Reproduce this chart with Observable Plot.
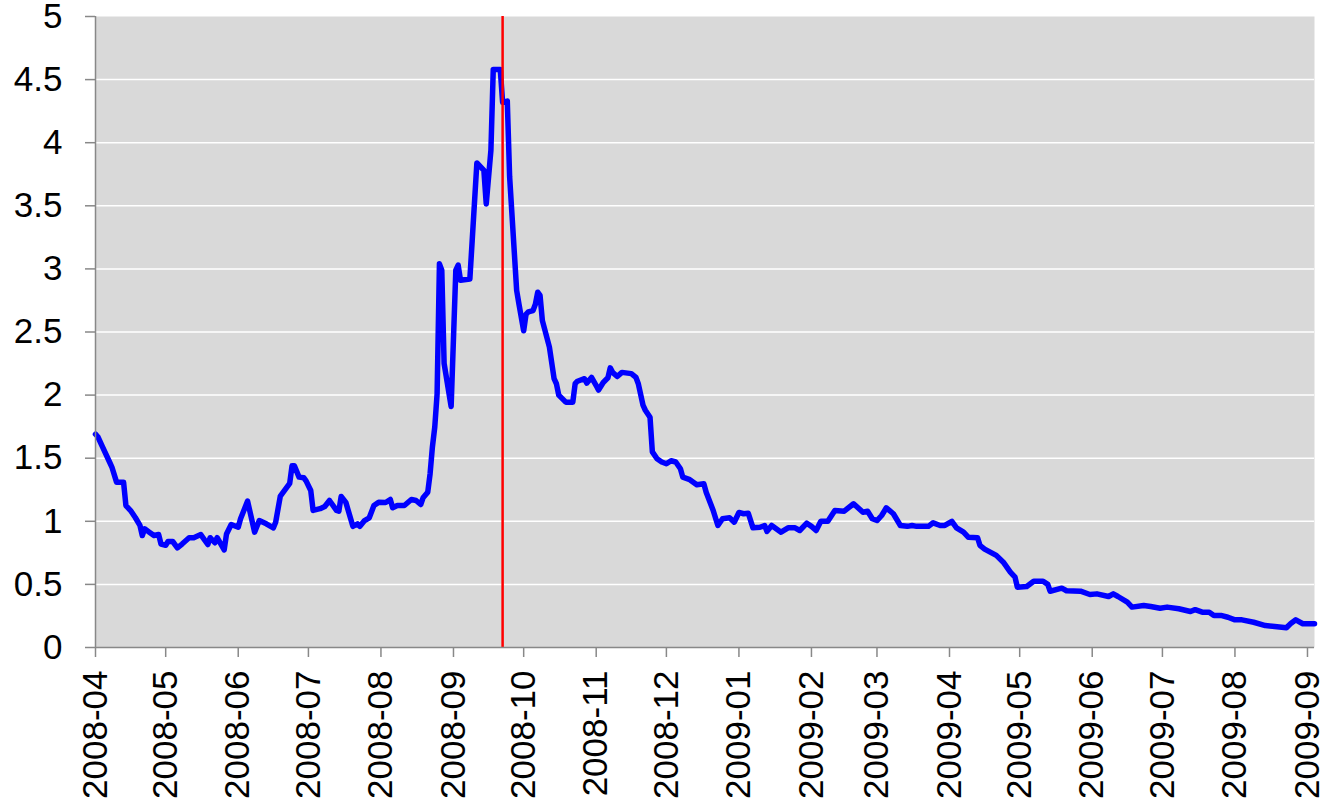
<!DOCTYPE html>
<html>
<head>
<meta charset="utf-8">
<script src="https://cdn.jsdelivr.net/npm/d3@7"></script>
<script src="https://cdn.jsdelivr.net/npm/@observablehq/plot@0.6"></script>
<style>
  html, body { margin: 0; padding: 0; background: #ffffff; }
  #chart { width: 1326px; height: 811px; }
</style>
</head>
<body>
<div id="chart"></div>
<script>
const dates = [
  "2008-04-01","2008-04-02","2008-04-04","2008-04-07","2008-04-08","2008-04-10","2008-04-13","2008-04-14","2008-04-16","2008-04-18",
  "2008-04-20","2008-04-21","2008-04-22","2008-04-24","2008-04-26","2008-04-28","2008-04-29","2008-05-01","2008-05-02","2008-05-04",
  "2008-05-06","2008-05-08","2008-05-11","2008-05-13","2008-05-16","2008-05-19","2008-05-20","2008-05-22","2008-05-23","2008-05-26",
  "2008-05-27","2008-05-29","2008-06-01","2008-06-02","2008-06-05","2008-06-08","2008-06-10","2008-06-13","2008-06-16","2008-06-17",
  "2008-06-19","2008-06-23","2008-06-24","2008-06-25","2008-06-27","2008-06-29","2008-06-30","2008-07-02","2008-07-03","2008-07-06",
  "2008-07-08","2008-07-10","2008-07-13","2008-07-14","2008-07-15","2008-07-17","2008-07-20","2008-07-22","2008-07-23","2008-07-25",
  "2008-07-27","2008-07-29","2008-07-31","2008-08-03","2008-08-05","2008-08-06","2008-08-08","2008-08-11","2008-08-14","2008-08-16",
  "2008-08-18","2008-08-19","2008-08-21","2008-08-22","2008-08-23","2008-08-24","2008-08-25","2008-08-26","2008-08-27","2008-08-28",
  "2008-08-31","2008-09-02","2008-09-03","2008-09-04","2008-09-08","2008-09-09","2008-09-11","2008-09-14","2008-09-15","2008-09-17",
  "2008-09-18","2008-09-21","2008-09-22","2008-09-24","2008-09-25","2008-09-28","2008-09-29","2008-10-01","2008-10-02","2008-10-03",
  "2008-10-05","2008-10-06","2008-10-07","2008-10-08","2008-10-09","2008-10-12","2008-10-14","2008-10-15","2008-10-16","2008-10-19",
  "2008-10-22","2008-10-23","2008-10-24","2008-10-27","2008-10-28","2008-10-30","2008-11-01","2008-11-02","2008-11-04","2008-11-06",
  "2008-11-07","2008-11-08","2008-11-10","2008-11-12","2008-11-16","2008-11-18","2008-11-19","2008-11-21","2008-11-22","2008-11-24",
  "2008-11-25","2008-11-27","2008-11-29","2008-12-01","2008-12-03","2008-12-05","2008-12-07","2008-12-08","2008-12-11","2008-12-14",
  "2008-12-17","2008-12-18","2008-12-21","2008-12-23","2008-12-25","2008-12-28","2008-12-30","2009-01-01","2009-01-03","2009-01-05",
  "2009-01-07","2009-01-10","2009-01-12","2009-01-13","2009-01-15","2009-01-19","2009-01-22","2009-01-25","2009-01-27","2009-01-30",
  "2009-02-01","2009-02-03","2009-02-05","2009-02-08","2009-02-11","2009-02-15","2009-02-19","2009-02-23","2009-02-25","2009-02-27",
  "2009-03-01","2009-03-03","2009-03-05","2009-03-08","2009-03-11","2009-03-14","2009-03-16","2009-03-18","2009-03-23","2009-03-25",
  "2009-03-28","2009-03-30","2009-04-02","2009-04-04","2009-04-07","2009-04-09","2009-04-13","2009-04-14","2009-04-16","2009-04-21",
  "2009-04-24","2009-04-27","2009-04-29","2009-04-30","2009-05-04","2009-05-07","2009-05-11","2009-05-13","2009-05-14","2009-05-19",
  "2009-05-21","2009-05-27","2009-05-31","2009-06-03","2009-06-08","2009-06-10","2009-06-12","2009-06-16","2009-06-18","2009-06-23",
  "2009-06-26","2009-06-30","2009-07-03","2009-07-08","2009-07-13","2009-07-15","2009-07-18","2009-07-21","2009-07-23","2009-07-26",
  "2009-07-29","2009-08-01","2009-08-04","2009-08-09","2009-08-14","2009-08-18","2009-08-23","2009-08-25","2009-08-27","2009-08-30",
  "2009-09-04"
];
const values = [
  1.69,1.67,1.59,1.47,1.43,1.31,1.31,1.125,1.085,1.03,
  0.967,0.887,0.94,0.914,0.887,0.895,0.82,0.81,0.84,0.84,
  0.79,0.82,0.87,0.87,0.895,0.816,0.87,0.83,0.87,0.774,
  0.90,0.975,0.953,1.02,1.16,0.914,1.006,0.98,0.948,0.993,
  1.20,1.30,1.44,1.44,1.35,1.345,1.32,1.244,1.086,1.10,
  1.117,1.165,1.086,1.08,1.197,1.15,0.96,0.98,0.96,1.006,
  1.028,1.125,1.15,1.149,1.173,1.107,1.125,1.125,1.173,1.165,
  1.133,1.186,1.23,1.376,1.59,1.746,2.01,3.04,2.99,2.25,
  1.91,2.99,3.03,2.91,2.92,3.225,3.84,3.78,3.515,3.94,
  4.58,4.58,4.32,4.33,3.73,2.83,2.72,2.51,2.64,2.66,
  2.67,2.72,2.815,2.79,2.59,2.38,2.13,2.09,2.0,1.944,
  1.944,2.09,2.11,2.13,2.095,2.14,2.076,2.04,2.10,2.137,
  2.216,2.18,2.147,2.18,2.17,2.14,2.09,1.92,1.88,1.825,
  1.55,1.495,1.47,1.456,1.48,1.47,1.416,1.35,1.33,1.29,
  1.297,1.23,1.086,0.967,1.02,1.028,0.993,1.07,1.06,1.064,
  0.948,0.953,0.967,0.92,0.967,0.914,0.948,0.948,0.927,0.985,
  0.96,0.927,1.0,1.0,1.086,1.08,1.139,1.072,1.08,1.02,
  1.006,1.046,1.107,1.06,0.967,0.96,0.967,0.96,0.96,0.988,
  0.967,0.967,1.0,0.948,0.914,0.874,0.87,0.81,0.78,0.73,
  0.676,0.597,0.557,0.478,0.483,0.525,0.525,0.50,0.446,0.47,
  0.45,0.446,0.42,0.425,0.404,0.425,0.404,0.359,0.32,0.333,
  0.325,0.311,0.32,0.307,0.285,0.30,0.28,0.28,0.254,0.254,
  0.24,0.219,0.219,0.20,0.174,0.166,0.156,0.193,0.219,0.188,
  0.188
];
const monthTicks = [
  "2008-04","2008-05","2008-06","2008-07","2008-08","2008-09","2008-10","2008-11","2008-12",
  "2009-01","2009-02","2009-03","2009-04","2009-05","2009-06","2009-07","2009-08","2009-09"
];
const yTicks = [0, 0.5, 1, 1.5, 2, 2.5, 3, 3.5, 4, 4.5, 5];
const gridTicks = [0.5, 1, 1.5, 2, 2.5, 3, 3.5, 4, 4.5];
const xStart = "2008-04-01";
const xEnd = "2009-09-04";
const eventDate = "2008-09-22";

const parse = d3.utcParse("%Y-%m-%d");
const parseMonth = d3.utcParse("%Y-%m");
const series = dates.map((d, i) => ({date: parse(d), value: values[i]}));
const monthDates = monthTicks.map(parseMonth);

const chart = Plot.plot({
  width: 1326,
  height: 811,
  marginLeft: 95,
  marginRight: 12,
  marginTop: 16,
  marginBottom: 164,
  style: {fontFamily: "'Liberation Sans', Arial, sans-serif", fontSize: "35px", color: "#000", background: "#fff", overflow: "visible"},
  x: {type: "utc", domain: [parse(xStart), parse(xEnd)]},
  y: {domain: [0, 5]},
  marks: [
    Plot.frame({fill: "#d9d9d9", stroke: "none"}),
    Plot.gridY(gridTicks, {stroke: "#ffffff", strokeOpacity: 1, strokeWidth: 1.5}),
    Plot.line(series, {x: "date", y: "value", stroke: "#0000ff", strokeWidth: 5.5, strokeLinejoin: "round", strokeLinecap: "round"}),
    Plot.ruleX([parse(eventDate)], {stroke: "#ff0000", strokeWidth: 2.5}),
    Plot.ruleX([parse(xStart)], {stroke: "#888888", strokeWidth: 1.5}),
    Plot.ruleY([0], {stroke: "#888888", strokeWidth: 1.5}),
    Plot.axisY(yTicks, {tickSize: 10, tickPadding: 23, stroke: "#888888", strokeWidth: 1.5, fontSize: 35, tickFormat: d => String(d), label: null}),
    Plot.axisX(monthDates, {tickSize: 10, tickPadding: 13, tickRotate: -90, stroke: "#888888", strokeWidth: 1.5, fontSize: 35, tickFormat: d3.utcFormat("%Y-%m"), label: null})
  ]
});
document.getElementById("chart").appendChild(chart);
</script>
</body>
</html>
